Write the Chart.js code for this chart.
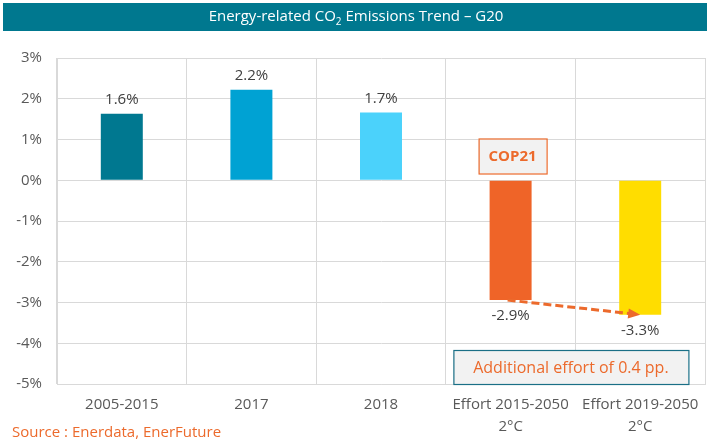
<!DOCTYPE html>
<html>
<head>
<meta charset="utf-8">
<script src="https://cdn.jsdelivr.net/npm/chart.js@4"></script>
<style>
	html, body { margin: 0; padding: 0; background: #fff; }
	#wrap { width: 713px; height: 443px; }
</style>
</head>
<body>
<div id="wrap"><canvas id="grafico-co2"></canvas></div>
<script>
var categorias = [["2005-2015"], ["2017"], ["2018"], ["Effort 2015-2050", "2°C"], ["Effort 2019-2050", "2°C"]];
var valores = [1.63, 2.22, 1.66, -2.94, -3.3];
var rotulos = ["1.6%", "2.2%", "1.7%", "-2.9%", "-3.3%"];
var cores = ["#007890", "#00a2d3", "#4bd2fb", "#ef6428", "#ffdd00"];
var ticksY = [3, 2, 1, 0, -1, -2, -3, -4, -5];

var laranja = "#ec6a2c";
var fonte = "'Open Sans', 'DejaVu Sans', sans-serif";

function caixa(ctx, x, y, w, h, borda, texto, font) {
	ctx.save();
	ctx.fillStyle = "#f2f2f2";
	ctx.fillRect(x, y, w, h);
	ctx.strokeStyle = borda;
	ctx.lineWidth = 1.2;
	ctx.strokeRect(x + 0.5, y + 0.5, w, h);
	ctx.fillStyle = laranja;
	ctx.font = font;
	ctx.textAlign = "center";
	ctx.textBaseline = "middle";
	ctx.fillText(texto, x + w / 2, y + h / 2 + 1);
	ctx.restore();
}

var pluginExtras = {
	id: 'extras',
	beforeDraw: function(chart) {
		var ctx = chart.ctx;
		ctx.save();
		// barra de titulo
		ctx.fillStyle = "#00788f";
		ctx.fillRect(3, 3, 704, 28);
		ctx.fillStyle = "#ffffff";
		ctx.textBaseline = "middle";
		var t1 = "Energy-related CO", t2 = "2", t3 = " Emissions Trend \u2013 G20";
		ctx.font = "15px " + fonte;
		var w1 = ctx.measureText(t1).width, w3 = ctx.measureText(t3).width;
		ctx.font = "10px " + fonte;
		var w2 = ctx.measureText(t2).width;
		var x0 = 356 - (w1 + w2 + w3) / 2;
		ctx.textAlign = "left";
		ctx.font = "15px " + fonte;
		ctx.fillText(t1, x0, 17);
		ctx.font = "10px " + fonte;
		ctx.fillText(t2, x0 + w1, 22);
		ctx.font = "15px " + fonte;
		ctx.fillText(t3, x0 + w1 + w2, 17);
		ctx.restore();
	},
	afterDatasetsDraw: function(chart) {
		var ctx = chart.ctx;
		var meta = chart.getDatasetMeta(0);
		var y = chart.scales.y;
		ctx.save();
		// rotulos de dados
		ctx.font = "15px " + fonte;
		ctx.fillStyle = "#404040";
		ctx.textAlign = "center";
		ctx.textBaseline = "middle";
		meta.data.forEach(function(bar, i) {
			if (valores[i] >= 0) {
				ctx.fillText(rotulos[i], bar.x, bar.y - 14);
			} else {
				ctx.fillText(rotulos[i], bar.x, bar.y + 16);
			}
		});

		// seta tracejada
		var xa = meta.data[3].x - 3, ya = y.getPixelForValue(valores[3]);
		var xb = meta.data[4].x, yb = y.getPixelForValue(valores[4]);
		var ang = Math.atan2(yb - ya, xb - xa);
		var xe = xb - 10 * Math.cos(ang), ye = yb - 10 * Math.sin(ang);
		ctx.strokeStyle = laranja;
		ctx.lineWidth = 3;
		ctx.setLineDash([8, 4]);
		ctx.beginPath();
		ctx.moveTo(xa, ya);
		ctx.lineTo(xe, ye);
		ctx.stroke();
		ctx.setLineDash([]);
		ctx.fillStyle = laranja;
		ctx.beginPath();
		ctx.moveTo(xb, yb);
		ctx.lineTo(xe - 5 * Math.sin(ang) - 2 * Math.cos(ang), ye + 5 * Math.cos(ang) - 2 * Math.sin(ang));
		ctx.lineTo(xe + 5 * Math.sin(ang) - 2 * Math.cos(ang), ye - 5 * Math.cos(ang) - 2 * Math.sin(ang));
		ctx.closePath();
		ctx.fill();
		ctx.restore();

		// caixas de anotacao
		var cx = meta.data[3].x + 2;
		var yTop = y.getPixelForValue(1.0);
		caixa(ctx, cx - 34, yTop - 1, 68, 35, laranja, "COP21", "bold 15px " + fonte);
		var meio = (meta.data[3].x + meta.data[4].x) / 2;
		var yBase = y.getPixelForValue(-5);
		caixa(ctx, meio - 122, yBase - 34, 235, 34, "#1a6f86", "Additional effort of 0.4 pp.", "16px " + fonte);

		// fonte
		ctx.save();
		ctx.font = "15px " + fonte;
		ctx.fillStyle = laranja;
		ctx.textAlign = "left";
		ctx.textBaseline = "middle";
		ctx.fillText("Source : Enerdata, EnerFuture", 12, 433);
		ctx.restore();
	}
};

var ctx = document.getElementById("grafico-co2");
var grafico = new Chart(ctx, {
	type: 'bar',
	data: {
		labels: categorias,
		datasets: [{
			data: valores,
			backgroundColor: cores,
			borderWidth: 0,
			categoryPercentage: 1,
			barPercentage: 0.324
		}]
	},
	options: {
		responsive: true,
		maintainAspectRatio: false,
		animation: false,
		events: [],
		layout: { padding: { top: 58, right: 8, bottom: 0, left: 0 } },
		plugins: {
			legend: { display: false },
			tooltip: { enabled: false }
		},
		scales: {
			x: {
				grid: { color: "#d9d9d9", drawTicks: false, offset: true },
				border: { color: "#d9d9d9" },
				ticks: {
					color: "#595959",
					padding: 10,
					maxRotation: 0,
					autoSkip: false,
					font: { family: fonte, size: 15, lineHeight: 1.45 }
				},
				afterFit: function(scale) { scale.height = 59; }
			},
			y: {
				min: -5,
				max: 3,
				afterBuildTicks: function(scale) {
					scale.ticks = ticksY.map(function(v) { return { value: v }; });
				},
				grid: { color: "#d9d9d9", drawTicks: false },
				border: { color: "#d9d9d9" },
				ticks: {
					color: "#595959",
					padding: 15,
					font: { family: fonte, size: 15 },
					callback: function(v) { return v + "%"; }
				},
				afterFit: function(scale) { scale.width = 57; }
			}
		}
	},
	plugins: [pluginExtras]
});
</script>
</body>
</html>
